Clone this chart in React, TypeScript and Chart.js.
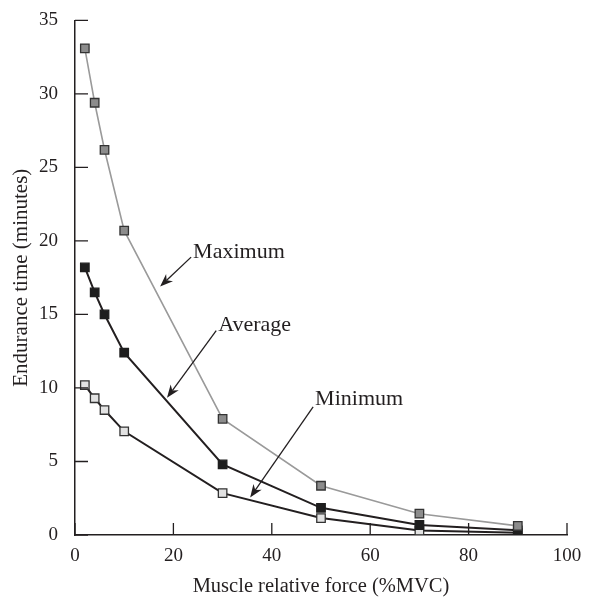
import React, { useEffect, useRef } from "react";
import { Chart, registerables } from "chart.js";

Chart.register(...registerables);

const forceValues = [2, 4, 6, 10, 30, 50, 70, 90];
const maximumValues = [33.1, 29.4, 26.2, 20.7, 7.9, 3.35, 1.45, 0.62];
const averageValues = [18.2, 16.5, 15.0, 12.4, 4.8, 1.85, 0.68, 0.32];
const minimumValues = [10.2, 9.3, 8.5, 7.05, 2.85, 1.15, 0.3, 0.15];

const seriesNames = ["Maximum", "Average", "Minimum"];
const annotationTextAt = [
  [24.0, 19.26],
  [29.1, 14.3],
  [48.8, 9.26],
];
const annotationArrowFrom = [
  [23.6, 18.9],
  [28.7, 13.9],
  [48.4, 8.72],
];
const annotationArrowTo = [
  [17.3, 16.9],
  [18.7, 9.33],
  [35.6, 2.55],
];

const INK = "#231f20";
const FONT = "'Liberation Serif', 'DejaVu Serif', serif";

const toPoints = (ys: number[]) => forceValues.map((x, i) => ({ x, y: ys[i] }));

const innerTicksPlugin = {
  id: "innerTicks",
  afterDraw(chart: any) {
    const { ctx, chartArea } = chart;
    const xs = chart.scales.x;
    const ys = chart.scales.y;
    ctx.save();
    ctx.strokeStyle = INK;
    ctx.lineWidth = 1.3;
    ctx.beginPath();
    xs.ticks.forEach((t: any) => {
      const px = xs.getPixelForValue(t.value);
      ctx.moveTo(px, chartArea.bottom);
      ctx.lineTo(px, chartArea.bottom - 12);
    });
    ys.ticks.forEach((t: any) => {
      const py = ys.getPixelForValue(t.value);
      ctx.moveTo(chartArea.left, py);
      ctx.lineTo(chartArea.left + 13, py);
    });
    ctx.stroke();
    ctx.restore();
  },
};

const annotationPlugin = {
  id: "arrowLabels",
  afterDatasetsDraw(chart: any) {
    const { ctx } = chart;
    const xs = chart.scales.x;
    const ys = chart.scales.y;
    ctx.save();
    ctx.font = `22px ${FONT}`;
    ctx.fillStyle = INK;
    ctx.strokeStyle = INK;
    ctx.textAlign = "left";
    ctx.textBaseline = "middle";
    seriesNames.forEach((name, i) => {
      const tx = xs.getPixelForValue(annotationTextAt[i][0]);
      const ty = ys.getPixelForValue(annotationTextAt[i][1]);
      ctx.fillText(name, tx, ty);
      const x1 = xs.getPixelForValue(annotationArrowFrom[i][0]);
      const y1 = ys.getPixelForValue(annotationArrowFrom[i][1]);
      const x2 = xs.getPixelForValue(annotationArrowTo[i][0]);
      const y2 = ys.getPixelForValue(annotationArrowTo[i][1]);
      const ang = Math.atan2(y2 - y1, x2 - x1);
      const len = 13;
      const hw = 5;
      const bx = x2 - len * Math.cos(ang);
      const by = y2 - len * Math.sin(ang);
      ctx.lineWidth = 1.3;
      ctx.beginPath();
      ctx.moveTo(x1, y1);
      ctx.lineTo(bx + 4 * Math.cos(ang), by + 4 * Math.sin(ang));
      ctx.stroke();
      ctx.beginPath();
      ctx.moveTo(x2, y2);
      ctx.lineTo(bx + hw * Math.sin(ang), by - hw * Math.cos(ang));
      ctx.lineTo(bx + 4 * Math.cos(ang), by + 4 * Math.sin(ang));
      ctx.lineTo(bx - hw * Math.sin(ang), by + hw * Math.cos(ang));
      ctx.closePath();
      ctx.fill();
    });
    ctx.restore();
  },
};

export default function App() {
  const canvasRef = useRef<HTMLCanvasElement | null>(null);

  useEffect(() => {
    document.body.style.margin = "0";
    const canvas = canvasRef.current;
    if (!canvas) return;
    const chart = new Chart(canvas, {
      type: "line",
      data: {
        datasets: [
          {
            label: "Maximum",
            data: toPoints(maximumValues),
            borderColor: "#9a9a9a",
            borderWidth: 1.6,
            backgroundColor: "#8c8c8c",
            pointBackgroundColor: "#8c8c8c",
            pointBorderColor: "#333333",
            pointBorderWidth: 1.3,
            pointStyle: "rect",
            pointRadius: 6,
            tension: 0,
          },
          {
            label: "Average",
            data: toPoints(averageValues),
            borderColor: INK,
            borderWidth: 2,
            backgroundColor: INK,
            pointBackgroundColor: "#1e1e1e",
            pointBorderColor: "#1e1e1e",
            pointBorderWidth: 1.3,
            pointStyle: "rect",
            pointRadius: 6,
            tension: 0,
          },
          {
            label: "Minimum",
            data: toPoints(minimumValues),
            borderColor: INK,
            borderWidth: 2,
            backgroundColor: "#e2e2e2",
            pointBackgroundColor: "#e2e2e2",
            pointBorderColor: "#333333",
            pointBorderWidth: 1.3,
            pointStyle: "rect",
            pointRadius: 6,
            tension: 0,
          },
        ],
      },
      options: {
        responsive: false,
        animation: false,
        layout: { padding: { top: 13, right: 32, bottom: 0, left: 0 } },
        plugins: {
          legend: { display: false },
          tooltip: { enabled: false },
        },
        scales: {
          x: {
            type: "linear",
            min: 0,
            max: 100,
            grid: { display: false },
            border: { display: true, color: INK, width: 1.5 },
            ticks: {
              stepSize: 20,
              padding: 2,
              color: INK,
              font: { family: FONT, size: 19 },
              maxRotation: 0,
            },
            title: {
              display: true,
              text: "Muscle relative force (%MVC)",
              color: INK,
              font: { family: FONT, size: 20.5 },
              padding: { top: 0, bottom: 0 },
            },
            afterFit: (scale: any) => {
              scale.height = 64;
            },
          },
          y: {
            type: "linear",
            min: 0,
            max: 35,
            grid: { display: false },
            border: { display: true, color: INK, width: 1.5 },
            ticks: {
              stepSize: 5,
              padding: 9,
              color: INK,
              font: { family: FONT, size: 19 },
            },
            title: {
              display: true,
              text: "Endurance time (minutes)",
              color: INK,
              font: { family: FONT, size: 21 },
              padding: { top: 9, bottom: 0 },
            },
            afterFit: (scale: any) => {
              scale.width = 75;
            },
          },
        },
      },
      plugins: [innerTicksPlugin, annotationPlugin],
    });
    return () => chart.destroy();
  }, []);

  return (
    <div style={{ position: "fixed", left: 0, top: 0, width: 599, height: 599, background: "#fff" }}>
      <canvas ref={canvasRef} width={599} height={599} style={{ width: 599, height: 599 }} />
    </div>
  );
}
